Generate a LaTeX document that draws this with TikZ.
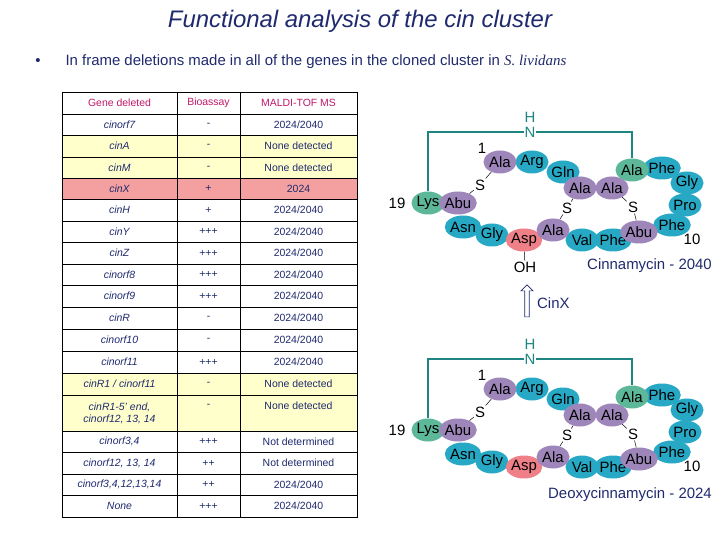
\documentclass[tikz,border=0pt]{standalone}
\usepackage{fontspec}
\setmainfont{Liberation Sans}
\newfontfamily\serifit{Liberation Serif}
\usetikzlibrary{shapes.geometric,shapes.arrows,arrows.meta}
\definecolor{navy}{HTML}{1F2A6E}
\definecolor{mag}{HTML}{C0186A}
\definecolor{ylw}{HTML}{FFFFCC}
\definecolor{rd}{HTML}{F4A0A0}
\definecolor{pur}{HTML}{9E86BA}
\definecolor{blu}{HTML}{27A9C6}
\definecolor{grn}{HTML}{5DB89A}
\definecolor{pnk}{HTML}{EF8088}
\definecolor{tealL}{HTML}{1E8582}
\begin{document}
\begin{tikzpicture}[x=1bp,y=-1bp,
  cell/.style={font=\fontsize{10.5}{12}\selectfont,text=navy,inner sep=0pt},
  hd/.style={font=\fontsize{10.5}{12}\selectfont,text=mag},
  res/.style={ellipse,minimum width=33bp,minimum height=23bp,inner sep=0pt,font=\fontsize{15}{15}\selectfont},
  P/.style={res,fill=pur}, B/.style={res,fill=blu}, G/.style={res,fill=grn}, K/.style={res,fill=pnk},
  lbl/.style={font=\fontsize{15}{15}\selectfont,inner sep=1pt},
  bond/.style={black,line width=0.5pt},
  hn/.style={tealL,line width=1.6pt}]
\useasboundingbox (0,0) rectangle (720,540);
\fill[white] (0,0) rectangle (720,540);
\node[navy,font=\fontsize{24}{26}\selectfont\itshape] (title) at (360,21) {Functional analysis of the cin cluster};
\node[navy,font=\fontsize{15}{16}\selectfont] (bul) at (38,62) {•};
\node[navy,anchor=west,font=\fontsize{15}{16}\selectfont] (sub) at (62,62) {In frame deletions made in all of the genes in the cloned cluster in {\serifit\itshape S. lividans}};
% table fills
\fill[ylw] (62,135) rectangle (357,178);
\fill[rd] (62,178) rectangle (357,199);
\fill[ylw] (62,373) rectangle (357,431);
\draw[black,line width=0.6pt] (62,92) rectangle (357,517);
\foreach \x in {177,240} \draw[black,line width=0.6pt] (\x,92) -- (\x,517);
\foreach \y in {114,135,157,178,199,221,242,264,285,307,329,351,373,395,431,452,474,495} \draw[black,line width=0.6pt] (62,\y) -- (357,\y);
\node[hd] (h1) at (119.5,103) {Gene deleted};
\node[hd] (h2) at (208.5,103) {Bioassay};
\node[hd] (h3) at (298.5,103) {MALDI-TOF MS};
\foreach \i/\yc/\g/\b/\m in {
 1/124.5/cinorf7/-/2024\slash2040,
 2/146/cinA/-/None detected,
 3/167.5/cinM/-/None detected,
 4/188.5/cinX/+/2024,
 5/210/cinH/+/2024\slash2040,
 6/231.5/cinY/+++/2024\slash2040,
 7/253/cinZ/+++/2024\slash2040,
 8/274.5/cinorf8/+++/2024\slash2040,
 9/296/cinorf9/+++/2024\slash2040,
 10/318/cinR/-/2024\slash2040,
 11/340/cinorf10/-/2024\slash2040,
 12/362/cinorf11/+++/2024\slash2040,
 13/384/cinR1 \slash{} cinorf11/-/None detected,
 15/441.5/cinorf3{,}4/+++/Not determined,
 16/463/cinorf12{,} 13{,} 14/++/Not determined,
 17/484.5/cinorf3{,}4{,}12{,}13{,}14/++/2024\slash2040,
 18/506/None/+++/2024\slash2040}{
 \node[cell,font=\fontsize{10.5}{12}\selectfont\itshape] (g\i) at (119.5,\yc) {\g};
 \node[cell] (b\i) at (208.5,\yc) {\b};
 \node[cell] (m\i) at (298.5,\yc) {\m};
}
\node[cell,font=\fontsize{10.5}{12}\selectfont\itshape,align=center] (g14) at (119.5,413) {cinR1-5' end,\\cinorf12, 13, 14};
\node[cell] (b14) at (208.5,406) {-};
\node[cell] (m14) at (298.5,406) {None detected};
% molecules
\foreach \p/\d in {a/0,b/227}{
 \begin{scope}[yshift=-\d bp]
 \node[lbl,tealL,inner sep=0pt] (\p hh) at (530,117) {H};
 \node[lbl,tealL,inner sep=0pt] (\p hn) at (530,132) {N};
 \node[G] (\p lys) at (428,203) {Lys};
 \node[P] (\p abu) at (458,203) {Abu};
 \node[B] (\p asn) at (463,227) {Asn};
 \node[B] (\p gly) at (492,235) {Gly};
 \node[B] (\p arg) at (532,162) {Arg};
 \node[P] (\p ala1) at (500,162) {Ala};
 \node[B] (\p gln) at (563,172) {Gln};
 \node[P] (\p alaA) at (580,188) {Ala};
 \node[P] (\p alaB) at (612,188) {Ala};
 \node[B] (\p phe1) at (662,168) {Phe};
 \node[B] (\p gly2) at (687,183) {Gly};
 \node[B] (\p pro) at (685,205) {Pro};
 \node[B] (\p phe2) at (672,225) {Phe};
 \node[G] (\p alaG) at (632,170) {Ala};
 \node[B] (\p phe3) at (613,240) {Phe};
 \node[P] (\p abu2) at (639,232) {Abu};
 \node[B] (\p val) at (582,240) {Val};
 \node[K] (\p asp) at (524,240) {Asp};
 \node[P] (\p alaC) at (553,230) {Ala};
 \node[lbl] (\p s1) at (480,185) {S};
 \node[lbl] (\p s2) at (567,208) {S};
 \node[lbl] (\p s3) at (633,207) {S};
 \node[lbl] (\p n1) at (482,148) {1};
 \node[lbl] (\p n19) at (397,203) {19};
 \node[lbl] (\p n10) at (692,239) {10};
 \draw[hn] (\p lys.north) |- (\p hn.west);
 \draw[hn] (\p hn.east) -| (\p alaG.north);
 \draw[bond] (\p s1) -- (\p ala1);
 \draw[bond] (\p s1) -- (\p abu);
 \draw[bond] (\p s2) -- (\p alaA);
 \draw[bond] (\p s2) -- (\p alaC);
 \draw[bond] (\p s3) -- (\p alaB);
 \draw[bond] (\p s3) -- (\p abu2);
 \end{scope}
}
\node[lbl] (oh) at (525,267) {OH};
\draw[bond] (aasp) -- (oh);
\node[lbl,navy,anchor=east] (cinn) at (713,266) {Cinnamycin - 2040};
\node[lbl,navy,anchor=east] (deoxy) at (713,495) {Deoxycinnamycin - 2024};
\node[single arrow,draw=navy,line width=0.7pt,fill=white,rotate=90,minimum height=32bp,minimum width=12bp,single arrow head extend=2.5bp,inner sep=1.2pt] (arr) at (527,302) {};
\node[lbl,navy,anchor=west] (cinx) at (536,303) {CinX};
\end{tikzpicture}
\end{document}
